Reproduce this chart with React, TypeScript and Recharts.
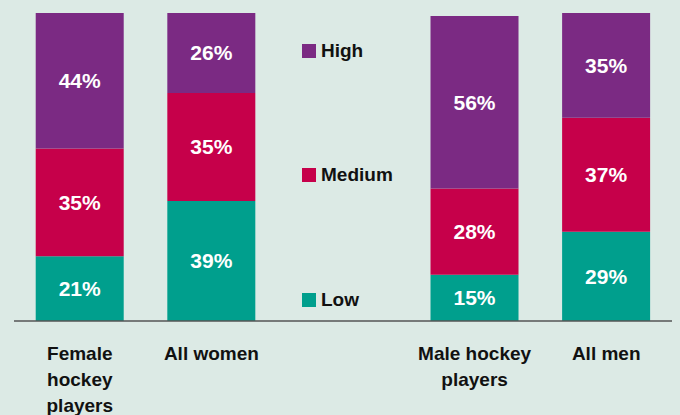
import { BarChart, Bar, XAxis, YAxis, Legend, LabelList } from "recharts";

const categories = [
  "Female hockey players",
  "All women",
  "",
  "Male hockey players",
  "All men",
];
const tickLines = [
  ["Female", "hockey", "players"],
  ["All women"],
  [],
  ["Male hockey", "players"],
  ["All men"],
];
const low = [21, 39, null, 15, 29];
const medium = [35, 35, null, 28, 37];
const high = [44, 26, null, 56, 35];
const edgeTicks = [0, 1, 2, 3, 4, 5];

const LOW = "#009f8d";
const MEDIUM = "#c6004a";
const HIGH = "#7b2a83";
const FONT = "'Liberation Sans', Arial, sans-serif";

const data = categories.map((name, i) => ({
  name,
  idx: i,
  low: low[i],
  medium: medium[i],
  high: high[i],
}));

const legendItems = [
  { label: "High", color: HIGH, top: 0 },
  { label: "Medium", color: MEDIUM, top: 124 },
  { label: "Low", color: LOW, top: 249 },
];

function CategoryTick(props: any) {
  const { x, y, payload } = props;
  const lines = tickLines[payload.index] ?? [];
  return (
    <text
      x={x}
      y={y + 38}
      textAnchor="middle"
      fontFamily={FONT}
      fontWeight="bold"
      fontSize={19}
      fill="#111"
    >
      {lines.map((l, i) => (
        <tspan key={i} x={x} dy={i === 0 ? 0 : 26}>
          {l}
        </tspan>
      ))}
    </text>
  );
}

function LegendBox() {
  return (
    <div style={{ position: "relative", width: 120, height: 270 }}>
      {legendItems.map((it) => (
        <div
          key={it.label}
          style={{
            position: "absolute",
            left: 0,
            top: it.top,
            display: "flex",
            alignItems: "center",
            fontFamily: FONT,
            fontWeight: "bold",
            fontSize: 19,
            color: "#111",
            lineHeight: "14px",
          }}
        >
          <span
            style={{
              display: "inline-block",
              width: 14,
              height: 14,
              background: it.color,
              marginRight: 5,
            }}
          />
          {it.label}
        </div>
      ))}
    </div>
  );
}

const fmt = (v: any) => (v == null ? "" : `${v}%`);
const labelStyle = {
  fill: "#ffffff",
  fontFamily: FONT,
  fontWeight: "bold",
  fontSize: 21,
};

export default function App() {
  return (
    <div
      style={{
        position: "absolute",
        left: 0,
        top: 0,
        width: 680,
        height: 415,
        background: "#dceae5",
      }}
    >
      <BarChart
        width={680}
        height={415}
        data={data}
        barCategoryGap="16.5%"
        margin={{ top: 13, right: 8, left: 14, bottom: 0 }}
      >
        <XAxis
          xAxisId="a"
          dataKey="idx"
          type="number"
          domain={[0, 5]}
          ticks={edgeTicks}
          tick={false}
          tickSize={7}
          height={1}
          stroke="#555"
          strokeWidth={1.5}
        />
        <XAxis
          xAxisId="b"
          dataKey="name"
          axisLine={false}
          tickLine={false}
          tickSize={0}
          tickMargin={0}
          height={93}
          interval={0}
          tick={<CategoryTick />}
        />
        <YAxis hide domain={[0, 100]} allowDataOverflow />
        <Legend
          layout="vertical"
          align="center"
          verticalAlign="middle"
          content={<LegendBox />}
          wrapperStyle={{ left: 302, top: 44, width: 120 }}
        />
        <Bar
          xAxisId="b"
          dataKey="low"
          stackId="a"
          fill={LOW}
          isAnimationActive={false}
        >
          <LabelList dataKey="low" position="center" formatter={fmt} style={labelStyle} />
        </Bar>
        <Bar
          xAxisId="b"
          dataKey="medium"
          stackId="a"
          fill={MEDIUM}
          isAnimationActive={false}
        >
          <LabelList dataKey="medium" position="center" formatter={fmt} style={labelStyle} />
        </Bar>
        <Bar
          xAxisId="b"
          dataKey="high"
          stackId="a"
          fill={HIGH}
          isAnimationActive={false}
        >
          <LabelList dataKey="high" position="center" formatter={fmt} style={labelStyle} />
        </Bar>
      </BarChart>
    </div>
  );
}
